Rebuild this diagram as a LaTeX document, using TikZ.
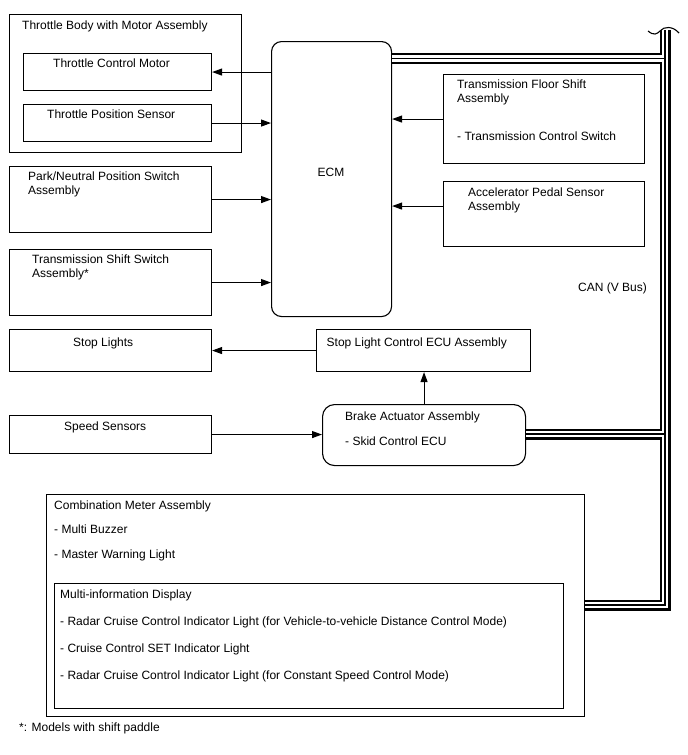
\documentclass[tikz,border=0pt]{standalone}
\usepackage{fontspec}
\setmainfont{Liberation Sans}
\usetikzlibrary{arrows.meta}

\begin{document}
\begin{tikzpicture}[x=1pt, y=-1pt, font=\fontsize{12}{14}\selectfont,
  blk/.style={draw, line width=1.1pt, inner sep=0pt, anchor=north west},
  rblk/.style={blk, rounded corners=10pt},
  lbl/.style={anchor=base west, inner sep=0pt, align=left},
  sig/.style={line width=1.1pt, -{Triangle[length=10pt,width=7pt]}},
  canbus/.style={line width=11pt, line join=miter,
    postaction={draw=white, line width=6.5pt, line join=miter},
    postaction={draw=black, line width=1.4pt, line join=miter}}]
\useasboundingbox (0,0) rectangle (688,755);

% Throttle Body
\node[blk, minimum width=232pt, minimum height=138pt] (tb) at (9,14) {};
\node[lbl] (tb-t) at (22,29.5) {Throttle Body with Motor Assembly};
\node[blk, minimum width=188pt, minimum height=37pt] (tcm) at (23,53) {};
\node[lbl] (tcm-t) at (53,67) {Throttle Control Motor};
\node[blk, minimum width=188pt, minimum height=37pt] (tps) at (23,104) {};
\node[lbl] (tps-t) at (47,118) {Throttle Position Sensor};

% ECM
\node[rblk, minimum width=120pt, minimum height=275pt] (ecm) at (271,41) {};
\node[anchor=base, inner sep=0pt] (ecm-t) at (331,176) {ECM};

% Switches at the left (multi-line texts sit on their last line)
\node[blk, minimum width=202pt, minimum height=66pt] (pn) at (9,166) {};
\node[lbl] (pn-t) at (28,194.5) {Park/Neutral Position Switch\\Assembly};
\node[blk, minimum width=202pt, minimum height=66pt] (tss) at (9,249) {};
\node[lbl] (tss-t) at (32,277) {Transmission Shift Switch\\Assembly*};

% Right side of the ECM
\node[blk, minimum width=201pt, minimum height=89pt] (tfs) at (443,74) {};
\node[lbl] (tfs-t) at (457,102.5) {Transmission Floor Shift\\Assembly};
\node[lbl] (tfs-t2) at (457,140) {- Transmission Control Switch};
\node[blk, minimum width=201pt, minimum height=65pt] (aps) at (443,181) {};
\node[lbl] (aps-t) at (468,210.5) {Accelerator Pedal Sensor\\Assembly};

% Stop lights and brake
\node[blk, minimum width=202pt, minimum height=42pt] (sl) at (9,329) {};
\node[lbl] (sl-t) at (73,346) {Stop Lights};
\node[blk, minimum width=214pt, minimum height=42pt] (slc) at (316,329) {};
\node[lbl] (slc-t) at (326.5,346) {Stop Light Control ECU Assembly};
\node[rblk, rounded corners=12pt, minimum width=203pt, minimum height=61pt] (brk) at (322,404) {};
\node[lbl] (brk-t) at (345,420.5) {Brake Actuator Assembly};
\node[lbl] (brk-t2) at (345,445) {- Skid Control ECU};
\node[blk, minimum width=202pt, minimum height=38pt] (spd) at (9,415) {};
\node[lbl] (spd-t) at (64,430.5) {Speed Sensors};

% Combination Meter
\node[blk, minimum width=538pt, minimum height=222pt] (cm) at (46,494) {};
\node[lbl] (cm-t) at (54,558) {Combination Meter Assembly\\[10.5pt]- Multi Buzzer\\[10.5pt]- Master Warning Light};
\node[blk, minimum width=509pt, minimum height=125pt] (mid) at (54,583) {};
\node[lbl] (mid-t) at (60,679.5) {Multi-information Display\\[13pt]- Radar Cruise Control Indicator Light (for Vehicle-to-vehicle Distance Control Mode)\\[13pt]- Cruise Control SET Indicator Light\\[13pt]- Radar Cruise Control Indicator Light (for Constant Speed Control Mode)};

\node[lbl] (foot) at (19,731) {*: Models with shift paddle};
\node[lbl] (can) at (578,291) {CAN (V Bus)};

% Signals
\draw[sig] (ecm.west |- tcm.east) -- (tcm.east);
\draw[sig] (tps.east) -- (tps.east -| ecm.west);
\draw[sig] (pn.east) -- (pn.east -| ecm.west);
\draw[sig] (tss.east) -- (tss.east -| ecm.west);
\draw[sig] (tfs.west) -- (tfs.west -| ecm.east);
\draw[sig] ([yshift=8pt]aps.west) -- ([yshift=8pt]aps.west -| ecm.east);
\draw[sig] (slc.west) -- (slc.west -| sl.east);
\draw[sig] (brk.north) -- (brk.north |- slc.south);
\draw[sig] (spd.east) -- (spd.east -| brk.west);

% CAN bus
\coordinate (bustop) at (665,30);
\coordinate (busA) at (665,58.5);
\coordinate (busB) at (665,434);
\coordinate (buscorner) at (665,605);
\draw[canbus] (ecm.east |- busA) -- (busA)
  (bustop) -- (buscorner) -- (cm.east |- buscorner)
  (brk.east |- busB) -- (busB);
\fill[white] (646,14) -- (648,31) .. controls (654,36) and (657,34) .. (660,31)
  .. controls (664,26) and (673,26) .. (679,33) -- (682,14) -- cycle;
\draw[line width=1.1pt] (648,31) .. controls (654,36) and (657,34) .. (660,31)
  .. controls (664,26) and (673,26) .. (679,33);

\end{tikzpicture}
\end{document}
